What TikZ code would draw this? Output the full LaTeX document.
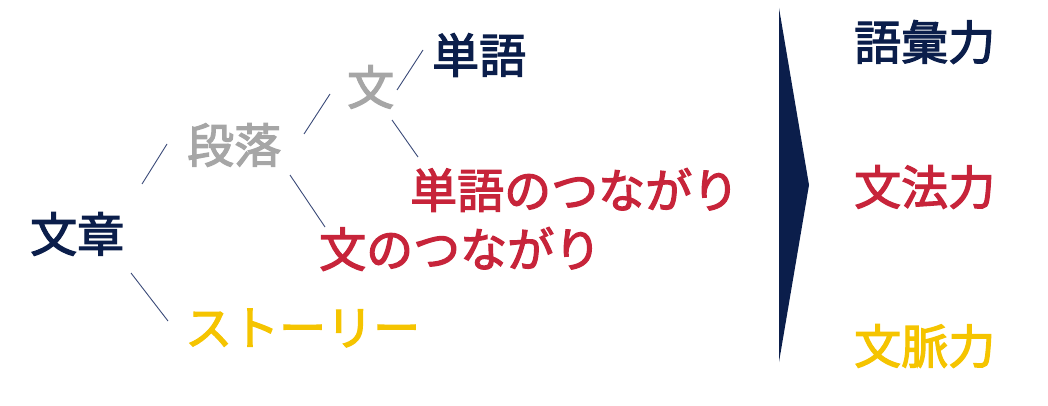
\documentclass[tikz,border=0pt]{standalone}
\usepackage{fontspec}
\newfontfamily\jpfont[FakeBold=2.6]{Noto Sans CJK JP}
\definecolor{navy}{HTML}{0B1E4B}
\definecolor{jred}{HTML}{C7243A}
\definecolor{jyel}{HTML}{F5C400}
\definecolor{jgrey}{HTML}{A6A6A6}
\definecolor{lin}{HTML}{3A4A78}
\tikzset{
  lbl/.style={inner sep=0pt, anchor=west, font=\fontsize{47}{47}\selectfont\jpfont},
  conn/.style={draw=lin, line width=0.9pt}
}
\begin{document}
\begin{tikzpicture}[x=1pt,y=-1pt]
\useasboundingbox (0,0) rectangle (1048,406);
\node[lbl, text=navy] (bunsho) at (30,234) {文章};
\node[lbl, text=jgrey] (danraku) at (187,145) {段落};
\node[lbl, text=jyel] (story) at (185,328) {ストーリー};
\node[lbl, text=jgrey] (bun) at (347,87) {文};
\node[lbl, text=navy] (tango) at (432,55) {単語};
\node[lbl, text=jred] (tangotsu) at (410,190) {単語のつながり};
\node[lbl, text=jred] (buntsu) at (319,249) {文のつながり};
\node[lbl, text=navy] (goi) at (854,42) {語彙力};
\node[lbl, text=jred] (bunpo) at (854,187) {文法力};
\node[lbl, text=jyel] (bunmyaku) at (854,346) {文脈力};
\coordinate (a1) at (142,184); \coordinate (a2) at (167,144);
\coordinate (b1) at (131,273); \coordinate (b2) at (168,321);
\coordinate (c1) at (290,175); \coordinate (c2) at (325,227);
\coordinate (d1) at (304,134); \coordinate (d2) at (330,94);
\coordinate (e1) at (397,90); \coordinate (e2) at (423,50);
\coordinate (f1) at (392,120); \coordinate (f2) at (418,157);
\draw[conn] (a1) -- (a2);
\draw[conn] (b1) -- (b2);
\draw[conn] (c1) -- (c2);
\draw[conn] (d1) -- (d2);
\draw[conn] (e1) -- (e2);
\draw[conn] (f1) -- (f2);
\coordinate (t) at (779,8); \coordinate (r) at (809,185); \coordinate (bt) at (779,362);
\fill[navy] (t) -- (r) -- (bt) -- cycle;
\end{tikzpicture}
\end{document}
